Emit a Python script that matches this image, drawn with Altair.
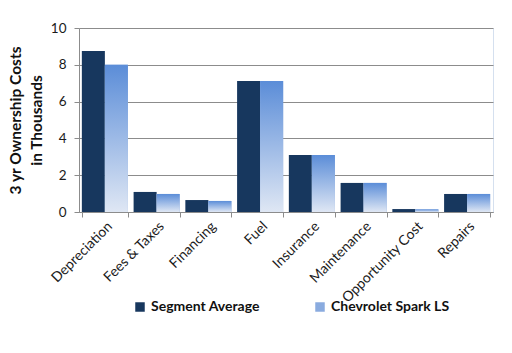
import altair as alt
import pandas as pd

categories = ["Depreciation", "Fees & Taxes", "Financing", "Fuel", "Insurance",
              "Maintenance", "Opportunity Cost", "Repairs"]
segment_avg = [8.75, 1.09, 0.65, 7.12, 3.10, 1.58, 0.16, 0.98]
chevy_spark = [8.00, 0.98, 0.60, 7.12, 3.10, 1.58, 0.14, 0.98]
series_names = ["Segment Average", "Chevrolet Spark LS"]
y_ticks = [0, 2, 4, 6, 8, 10]
y_title = ["3 yr Ownership Costs", "in Thousands"]

rows = []
for c, a, b in zip(categories, segment_avg, chevy_spark):
    rows.append({"category": c, "series": series_names[0], "value": a})
    rows.append({"category": c, "series": series_names[1], "value": b})
df = pd.DataFrame(rows)

FONT = "Lato"
NAVY = "#17375e"
GRID = "#8c8c8c"

x = alt.X("category:N", sort=categories,
          scale=alt.Scale(paddingInner=0.11, paddingOuter=0.055),
          axis=alt.Axis(title=None, labelAngle=-45, tickBand="extent", ticks=True,
                        tickSize=5, tickColor=GRID, domainColor=GRID, grid=False,
                        labelFont=FONT, labelFontSize=14, labelColor="#1a1a1a",
                        labelPadding=2))
xo = alt.XOffset("series:N", scale=alt.Scale(domain=series_names, paddingInner=0, paddingOuter=0))
y = alt.Y("value:Q", scale=alt.Scale(domain=[0, 10]),
          axis=alt.Axis(values=y_ticks, title=y_title, titleFont=FONT, titleFontSize=15.5,
                        titleFontWeight="bold", titleColor="#111111", titlePadding=6,
                        titleLineHeight=21,
                        labelFont=FONT, labelFontSize=13.5, labelColor="#1a1a1a",
                        labelPadding=8, tickSize=5, tickColor=GRID, domainColor=GRID,
                        gridColor=GRID, gridWidth=1))

base = alt.Chart(df).mark_bar().encode(
    x=x, xOffset=xo, y=y,
    color=alt.Color("series:N",
                    scale=alt.Scale(domain=series_names, range=[NAVY, "#8aabdf"]),
                    legend=alt.Legend(title=None, orient="none", legendX=54, legendY=272,
                                      direction="horizontal", symbolType="square",
                                      symbolSize=90, symbolStrokeWidth=0,
                                      labelFont=FONT, labelFontSize=14, labelFontWeight="bold",
                                      labelColor="#111111", columnPadding=53,
                                      labelOffset=4)),
)

grad = alt.Gradient(gradient="linear", x1=0, x2=0, y1=0, y2=1,
                    stops=[alt.GradientStop(color="#5b8dd8", offset=0),
                           alt.GradientStop(color="#dfe7f4", offset=1)])

overlay = alt.Chart(df).transform_filter(
    alt.datum.series == series_names[1]
).mark_bar(fill=grad).encode(x=x, xOffset=xo, y=y)

chart = alt.layer(base, overlay).properties(
    width=414, height=184,
    autosize=alt.AutoSizeParams(type="none"),
    padding={"left": 79, "top": 28, "right": 19, "bottom": 141},
    background="white",
).configure_view(stroke="#d5e0ef", strokeWidth=1)

chart.save("out.html", embed_options={"renderer": "svg", "actions": False})
